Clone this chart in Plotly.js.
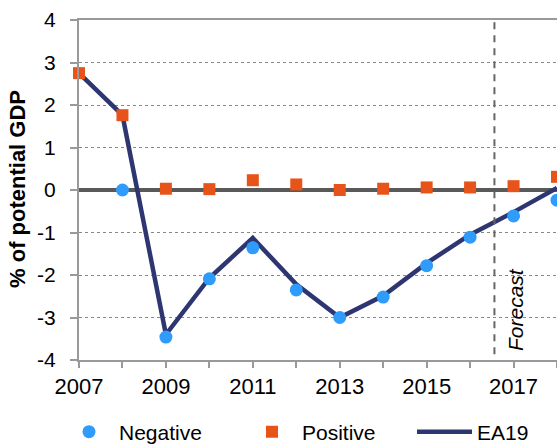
<!DOCTYPE html>
<html>
<head>
<meta charset="utf-8">
<script src="https://cdn.plot.ly/plotly-3.0.1.min.js"></script>
<style>
html,body{margin:0;padding:0;background:#fff;}
#chart{width:557px;height:444px;}
</style>
</head>
<body>
<div id="chart"></div>
<script>
// ---- data ----
var years = [2007, 2008, 2009, 2010, 2011, 2012, 2013, 2014, 2015, 2016, 2017, 2018];
var negativeYears = [2008, 2009, 2010, 2011, 2012, 2013, 2014, 2015, 2016, 2017, 2018];
var negativeValues = [0.00, -3.46, -2.09, -1.36, -2.35, -3.00, -2.52, -1.78, -1.11, -0.61, -0.24];
var positiveValues = [2.75, 1.76, 0.03, 0.02, 0.23, 0.13, 0.00, 0.03, 0.06, 0.06, 0.09, 0.31];
var ea19Values = [2.75, 1.76, -3.40, -2.07, -1.13, -2.22, -3.00, -2.49, -1.72, -1.05, -0.52, 0.05];
var xTickVals = [2007, 2008, 2009, 2010, 2011, 2012, 2013, 2014, 2015, 2016, 2017, 2018];
var xTickText = ['2007', '', '2009', '', '2011', '', '2013', '', '2015', '', '2017', ''];
var yTickVals = [-4, -3, -2, -1, 0, 1, 2, 3, 4];
var yTickText = ['-4', '-3', '-2', '-1', '0', '1', '2', '3', '4'];
var forecastStart = 2016.56;

var FONT = 'Arial, "Liberation Sans", sans-serif';

var traces = [
  {
    x: years, y: ea19Values, name: 'EA19', type: 'scatter', mode: 'lines',
    line: {color: '#2E3671', width: 4.5},
    legend: 'legend3', cliponaxis: true
  },
  {
    x: negativeYears, y: negativeValues, name: 'Negative', type: 'scatter', mode: 'markers',
    marker: {symbol: 'circle', size: 13, color: '#2F9BFA'},
    legend: 'legend', cliponaxis: false
  },
  {
    x: years, y: positiveValues, name: 'Positive', type: 'scatter', mode: 'markers',
    marker: {symbol: 'square', size: 12, color: '#E8531A'},
    legend: 'legend2', cliponaxis: false
  },
  // empty helper trace so the label-only overlay axis is drawn
  {
    x: [], y: [], yaxis: 'y2', type: 'scatter', mode: 'markers',
    showlegend: false, hoverinfo: 'skip'
  }
];

var legendFont = {family: FONT, size: 21, color: '#000'};
var LY = 1 - 432 / 444;
var layout = {
  width: 557, height: 444,
  margin: {l: 79, r: 0, t: 20, b: 84},
  paper_bgcolor: '#fff', plot_bgcolor: '#fff',
  font: {family: FONT, size: 21, color: '#000'},
  xaxis: {
    range: [2007, 2018], automargin: false,
    tickvals: xTickVals, ticktext: xTickText,
    ticks: 'outside', ticklen: 6, tickwidth: 2, tickcolor: '#999',
    showline: true, linecolor: '#999', linewidth: 2, mirror: true,
    showgrid: false, zeroline: false,
    tickfont: {family: FONT, size: 22, color: '#000'}
  },
  yaxis: {
    range: [-4, 4], automargin: false,
    tickvals: yTickVals, showticklabels: false,
    ticks: 'outside', ticklen: 7, tickwidth: 2, tickcolor: '#999',
    showline: true, linecolor: '#999', linewidth: 2,
    showgrid: true, gridcolor: '#888', griddash: 'dot', gridwidth: 1,
    zeroline: true, zerolinecolor: '#595959', zerolinewidth: 3.5
  },
  // overlay axis that only carries the tick labels, set further from the axis line
  yaxis2: {
    overlaying: 'y', side: 'left', anchor: 'x',
    range: [-4, 4], automargin: false,
    tickvals: yTickVals, ticktext: yTickText,
    ticks: 'outside', ticklen: 18, tickwidth: 1, tickcolor: 'rgba(0,0,0,0)',
    showline: false, showgrid: false, zeroline: false,
    tickfont: {family: FONT, size: 21, color: '#000'}
  },
  shapes: [
    {type: 'line', xref: 'x', yref: 'y', x0: forecastStart, x1: forecastStart, y0: 3.95, y1: -4,
     line: {color: '#666', width: 2, dash: '7px,6px'}}
  ],
  annotations: [
    {xref: 'x', yref: 'y', x: 2017.06, y: -2.82, text: '<i>Forecast</i>', textangle: -90,
     showarrow: false, font: {family: FONT, size: 21, color: '#000'}},
    {xref: 'paper', yref: 'paper', x: -0.1276, y: 0.503, text: '<b>% of potential GDP</b>', textangle: -90,
     showarrow: false, xanchor: 'center', yanchor: 'middle', font: {family: FONT, size: 22, color: '#000'}}
  ],
  legend: {orientation: 'h', xref: 'container', yref: 'container', x: 59/557, xanchor: 'left', y: LY, yanchor: 'middle',
           font: legendFont, itemwidth: 50, bgcolor: 'rgba(0,0,0,0)'},
  legend2: {orientation: 'h', xref: 'container', yref: 'container', x: 242/557, xanchor: 'left', y: LY, yanchor: 'middle',
           font: legendFont, itemwidth: 50, bgcolor: 'rgba(0,0,0,0)'},
  legend3: {orientation: 'h', xref: 'container', yref: 'container', x: 412/557, xanchor: 'left', y: LY, yanchor: 'middle',
           font: legendFont, itemwidth: 55, bgcolor: 'rgba(0,0,0,0)'},
  showlegend: true
};

Plotly.newPlot('chart', traces, layout, {displayModeBar: false, staticPlot: true});
</script>
</body>
</html>
